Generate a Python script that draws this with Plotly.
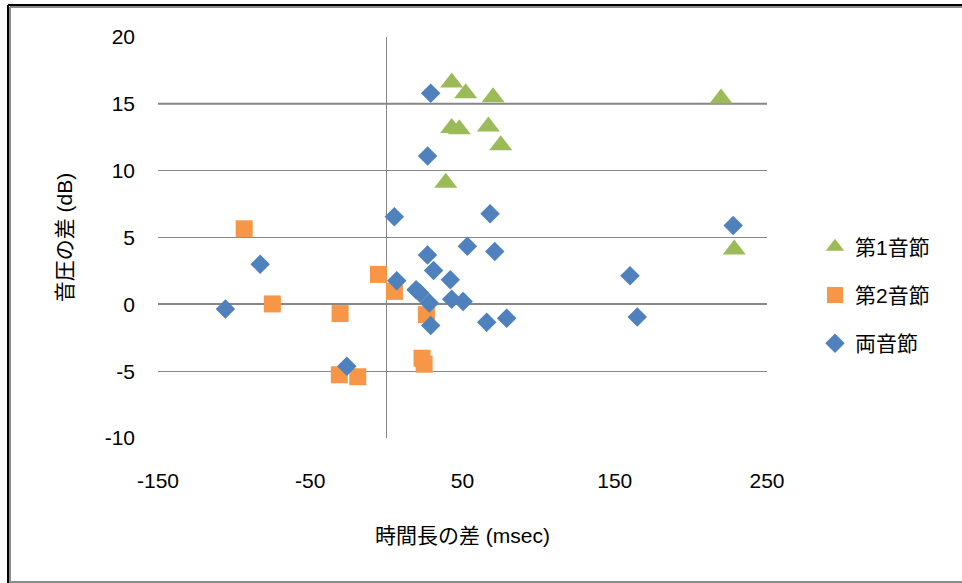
import plotly.graph_objects as go

# 時間長の差 (msec) と 音圧の差 (dB)
first_x = [42.9, 52.1, 70.1, 42.9, 47.9, 67.0, 75.1, 39.0, 219.8, 228.5]
first_y = [16.6, 15.8, 15.5, 13.2, 13.1, 13.3, 11.9, 9.1, 15.4, 4.1]

second_x = [-93.4, -74.9, -30.4, -5.2, 5.3, 26.3, -30.9, -18.8, 23.4, 24.8]
second_y = [5.65, 0.03, -0.69, 2.24, 0.97, -0.77, -5.27, -5.42, -4.03, -4.48]

both_x = [29.1, 27.1, 5.2, -82.9, -105.7, 53.2, 27.0, 31.0, 6.8, 42.0,
          19.5, 22.0, 28.2, 42.9, 50.4, -26.0, 29.1, 65.9, 79.0, 68.1,
          71.2, 227.8, 160.0, 164.8]
both_y = [15.8, 11.1, 6.55, 3.0, -0.34, 4.35, 3.7, 2.54, 1.76, 1.83,
          1.1, 0.85, 0.1, 0.38, 0.22, -4.63, -1.59, -1.34, -1.04, 6.77,
          3.96, 5.9, 2.14, -0.94]

x_ticks = [-150, -50, 50, 150, 250]
y_ticks = [-10, -5, 0, 5, 10, 15, 20]

FONT = "Liberation Sans, Noto Sans CJK JP, sans-serif"
GRID = "#878787"

fig = go.Figure()
fig.add_trace(go.Scatter(
    x=first_x, y=first_y, mode="markers", name="第1音節", legendgroup="a",
    marker=dict(symbol="triangle-up", size=20, color="#9BBB59"),
))
fig.add_trace(go.Scatter(
    x=second_x, y=second_y, mode="markers", name="第2音節", legendgroup="b",
    marker=dict(symbol="square", size=17, color="#F79646"),
))
fig.add_trace(go.Scatter(
    x=both_x, y=both_y, mode="markers", name="両音節", legendgroup="c",
    marker=dict(symbol="diamond", size=15, color="#4F81BD"),
))

# heavier horizontal rule at 15 dB
fig.add_shape(type="line", xref="paper", x0=0, x1=1, yref="y", y0=15, y1=15,
              line=dict(color=GRID, width=2), layer="below")

# chart frame
def px_x(p):
    return (p - 158) / 609

def px_y(p):
    return (438 - p) / 401

frame = [
    (px_x(8), px_y(5), px_x(962), px_y(5), "#000000", 2),
    (px_x(8), px_y(5), px_x(8), px_y(583), "#000000", 2),
    (px_x(10), px_y(7), px_x(962), px_y(7), "#8c8c8c", 2),
    (px_x(10), px_y(7), px_x(10), px_y(583), "#8c8c8c", 2),
    (px_x(10), px_y(582), px_x(962), px_y(582), "#8c8c8c", 2),
]
for x0, y0, x1, y1, c, w in frame:
    fig.add_shape(type="line", xref="paper", yref="paper", x0=x0, y0=y0,
                  x1=x1, y1=y1, line=dict(color=c, width=w))

fig.update_layout(
    width=962, height=583,
    margin=dict(l=158, r=195, t=37, b=145),
    paper_bgcolor="white", plot_bgcolor="white",
    font=dict(family=FONT, size=21, color="#000000"),
    showlegend=True,
    legend=dict(x=px_x(815), xanchor="left", y=px_y(295), yanchor="middle",
                tracegroupgap=18, font=dict(size=21), bgcolor="rgba(0,0,0,0)"),
    xaxis=dict(
        range=[-150, 250], tickvals=x_ticks, ticktext=[str(v) for v in x_ticks],
        showgrid=False, zeroline=True, zerolinecolor=GRID, zerolinewidth=1,
        showline=False, ticks="", ticklabelstandoff=28,
        title=dict(text="時間長の差 (msec)", standoff=37, font=dict(size=21)),
    ),
    yaxis=dict(
        range=[-10, 20], tickvals=y_ticks, ticktext=[str(v) for v in y_ticks],
        showgrid=True, gridcolor=GRID, gridwidth=1,
        zeroline=True, zerolinecolor=GRID, zerolinewidth=2,
        showline=False, ticks="", ticklabelstandoff=22,
        title=dict(text="音圧の差 (dB)", standoff=26, font=dict(size=21)),
    ),
)

fig.write_html("out.html")
